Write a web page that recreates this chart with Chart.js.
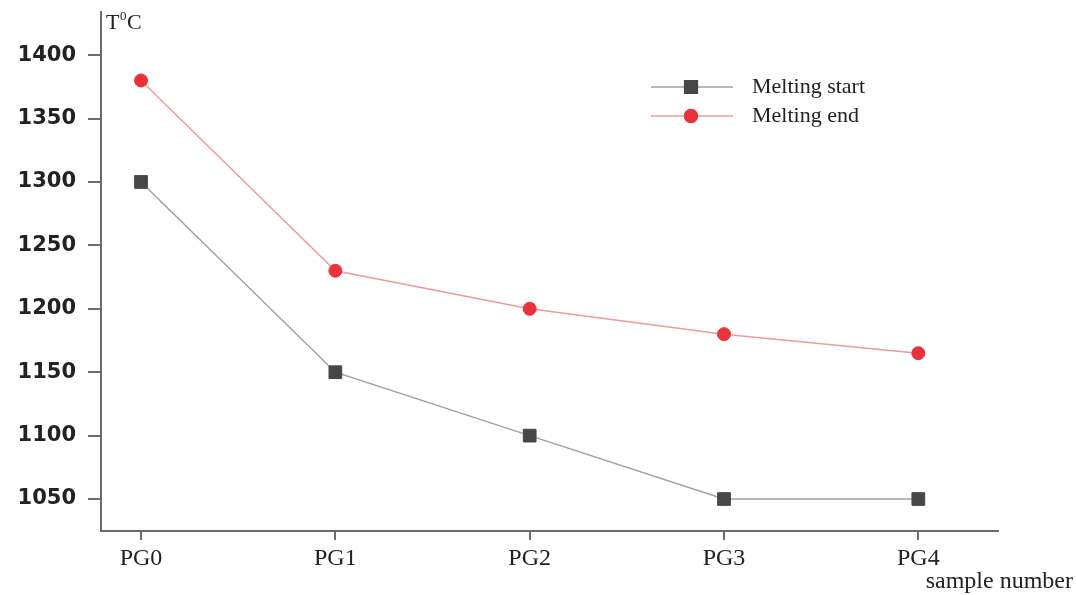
<!DOCTYPE html>
<html>
<head>
<meta charset="utf-8">
<script src="https://cdn.jsdelivr.net/npm/chart.js@4"></script>
<style>
  html, body { margin: 0; padding: 0; background: #fff; }
  #wrap { width: 1076px; height: 595px; }
</style>
</head>
<body>
<div id="wrap"><canvas id="chart" width="1076" height="595"></canvas></div>
<script>
const samples = ['PG0', 'PG1', 'PG2', 'PG3', 'PG4'];
const meltingStart = [1300, 1150, 1100, 1050, 1050];
const meltingEnd = [1380, 1230, 1200, 1180, 1165];
const yTicks = [1050, 1100, 1150, 1200, 1250, 1300, 1350, 1400];

const axisColor = '#6b6b6b';
const serif = '"Liberation Serif", "Times New Roman", serif';

// legend + axis titles drawn by hand
const extras = {
  id: 'extras',
  afterDraw(chart) {
    const { ctx } = chart;
    ctx.save();
    ctx.fillStyle = '#222';
    ctx.textBaseline = 'alphabetic';
    ctx.font = '22px ' + serif;
    ctx.fillText('T', 106, 29);
    ctx.font = '13px ' + serif;
    ctx.fillText('0', 120, 20);
    ctx.font = '22px ' + serif;
    ctx.fillText('C', 127, 29);

    ctx.font = '24px ' + serif;
    ctx.textAlign = 'right';
    ctx.fillText('sample number', 1073, 588);

    // legend
    ctx.textAlign = 'left';
    ctx.textBaseline = 'middle';
    chart.data.datasets.forEach((ds, i) => {
      const y = 87 + i * 29;
      ctx.strokeStyle = ds.borderColor;
      ctx.lineWidth = 1.5;
      ctx.beginPath();
      ctx.moveTo(651, y);
      ctx.lineTo(733, y);
      ctx.stroke();
      ctx.fillStyle = ds.pointBackgroundColor;
      ctx.strokeStyle = ds.pointBorderColor;
      Chart.helpers.drawPoint(ctx, {
        pointStyle: ds.pointStyle,
        radius: ds.pointRadius,
        borderWidth: 1
      }, 691, y);
      ctx.fillStyle = '#222';
      ctx.font = '22px ' + serif;
      ctx.fillText(ds.label, 752, y);
    });
    ctx.restore();
  }
};

new Chart(document.getElementById('chart'), {
  type: 'line',
  data: {
    datasets: [
      {
        label: 'Melting start',
        data: meltingStart.map((v, i) => ({ x: i, y: v })),
        borderColor: '#a0a0a0',
        borderWidth: 1.5,
        pointStyle: 'rect',
        pointRadius: 9,
        pointBackgroundColor: '#474747',
        pointBorderColor: '#474747',
        pointBorderWidth: 1
      },
      {
        label: 'Melting end',
        data: meltingEnd.map((v, i) => ({ x: i, y: v })),
        borderColor: '#f29a9a',
        borderWidth: 1.5,
        pointStyle: 'circle',
        pointRadius: 6.5,
        pointBackgroundColor: '#e8333a',
        pointBorderColor: '#e8333a',
        pointBorderWidth: 1
      }
    ]
  },
  options: {
    responsive: false,
    animation: false,
    layout: { padding: { top: 12, right: 78, left: 0, bottom: 0 } },
    plugins: { legend: { display: false }, tooltip: { enabled: false } },
    scales: {
      x: {
        type: 'linear',
        min: -0.206,
        max: 4.41,
        afterBuildTicks: axis => { axis.ticks = samples.map((s, i) => ({ value: i })); },
        afterFit: axis => {
          axis.height = 64;
          axis.paddingLeft = 0;
          axis.paddingRight = 0;
        },
        ticks: {
          callback: v => samples[v],
          color: '#222',
          font: { family: serif, size: 24 },
          padding: 4,
          maxRotation: 0
        },
        grid: { drawOnChartArea: false, drawTicks: true, tickLength: 9, color: axisColor, lineWidth: 2 },
        border: { color: axisColor, width: 2 }
      },
      y: {
        min: 1024.8,
        max: 1434,
        afterBuildTicks: axis => { axis.ticks = yTicks.map(v => ({ value: v })); },
        afterFit: axis => {
          axis.width = 101;
          axis.paddingTop = 0;
          axis.paddingBottom = 0;
        },
        ticks: {
          callback: v => String(v),
          color: '#222',
          font: { family: '"DejaVu Sans", sans-serif', size: 21, weight: 'bold' },
          padding: 12
        },
        grid: { drawOnChartArea: false, drawTicks: true, tickLength: 13, color: axisColor, lineWidth: 2 },
        border: { color: axisColor, width: 2 }
      }
    }
  },
  plugins: [extras]
});
</script>
</body>
</html>
